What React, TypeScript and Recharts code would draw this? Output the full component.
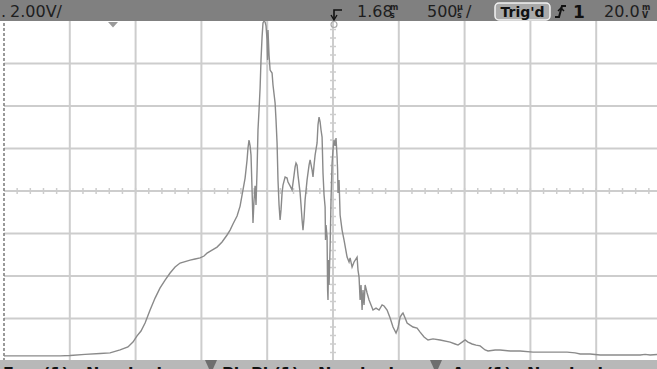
import { LineChart, Line, XAxis, YAxis, ReferenceLine } from "recharts";

// scope trace, time in µs (500 µs/div, 1.68 ms at centre), volts (2.00 V/div)
const timeUs = [
  -820, -698, -546, -394, -318, -204, -90, -14, 62, 122, 160, 191, 221, 252, 290, 328, 366, 404, 442, 480,
  518, 556, 594, 632, 670, 700, 723, 761, 799, 837, 875, 898, 920, 951, 974, 996, 1012, 1027, 1034, 1042,
  1050, 1057, 1065, 1072, 1080, 1088, 1095, 1103, 1110, 1118, 1126, 1133, 1141, 1148, 1156, 1164, 1171, 1179, 1183, 1186,
  1194, 1202, 1217, 1224, 1240, 1247, 1255, 1262, 1270, 1278, 1285, 1293, 1300, 1316, 1331, 1338, 1354, 1369, 1384, 1392,
  1399, 1407, 1414, 1430, 1437, 1445, 1452, 1460, 1468, 1483, 1498, 1506, 1521, 1528, 1536, 1544, 1559, 1566, 1574, 1582,
  1589, 1597, 1604, 1612, 1620, 1623, 1627, 1635, 1639, 1642, 1646, 1650, 1658, 1665, 1673, 1680, 1688, 1696, 1703, 1711,
  1715, 1718, 1726, 1734, 1749, 1764, 1787, 1802, 1810, 1825, 1840, 1863, 1870, 1878, 1886, 1893, 1901, 1908, 1916, 1924,
  1939, 1954, 1969, 1984, 2007, 2030, 2053, 2068, 2091, 2114, 2136, 2159, 2174, 2190, 2205, 2212, 2228, 2243, 2266, 2288,
  2319, 2342, 2372, 2402, 2440, 2494, 2570, 2608, 2630, 2661, 2684, 2706, 2737, 2767, 2798, 2836, 2858, 2912, 2950, 3026,
  3102, 3200, 3292, 3368, 3459, 3520, 3558, 3634, 3710, 3824, 3900, 3960, 4014, 4052, 4090, 4143, 4181,
];

const volts = [
  0.24, 0.24, 0.24, 0.24, 0.26, 0.31, 0.35, 0.38, 0.52, 0.66, 0.89, 1.18, 1.41, 1.79, 2.4, 2.96, 3.44, 3.81, 4.14, 4.42,
  4.61, 4.68, 4.75, 4.8, 4.85, 4.94, 5.08, 5.22, 5.36, 5.6, 5.93, 6.16, 6.45, 6.82, 7.29, 8.05, 8.61, 9.46, 10.02, 10.4,
  10.12, 9.69, 8.05, 6.49, 7.58, 8.24, 7.34, 8.99, 10.87, 11.81, 12.85, 14.17, 15.25, 15.91, 16.0, 15.95, 15.77, 15.11, 14.17, 15.58,
  14.4, 13.69, 13.55, 12.99, 12.14, 11.34, 10.26, 8.52, 7.34, 6.64, 7.11, 7.91, 8.28, 8.66, 8.61, 8.42, 8.24, 8.05, 8.75, 9.13,
  9.32, 9.22, 8.75, 7.91, 7.34, 6.64, 6.16, 6.73, 7.58, 8.52, 9.22, 9.46, 8.99, 8.66, 9.22, 9.69, 10.26, 11.11, 11.48, 11.25,
  10.87, 10.54, 8.85, 7.81, 7.25, 5.69, 6.4, 5.84, 3.34, 2.87, 4.75, 3.58, 5.36, 7.58, 9.32, 9.93, 10.4, 10.12, 10.49, 9.6,
  8.99, 7.91, 8.52, 6.87, 6.16, 5.69, 4.89, 4.66, 4.85, 4.42, 4.66, 4.89, 4.28, 3.95, 2.87, 3.58, 2.4, 3.34, 2.64, 3.58,
  3.2, 2.87, 2.64, 2.4, 2.49, 2.4, 2.64, 2.59, 2.4, 2.02, 1.6, 1.32, 1.55, 2.07, 2.21, 2.26, 2.02, 1.79, 1.69, 1.6,
  1.55, 1.36, 1.13, 0.99, 1.04, 0.99, 0.89, 0.8, 0.75, 0.89, 0.99, 0.89, 0.8, 0.75, 0.71, 0.52, 0.47, 0.52, 0.52, 0.47,
  0.47, 0.42, 0.42, 0.42, 0.42, 0.38, 0.33, 0.33, 0.28, 0.28, 0.28, 0.28, 0.28, 0.31, 0.28, 0.31, 0.28,
];

const gridTimes = [-320, 180, 680, 1180, 1680, 2180, 2680, 3180, 3680];
const gridVolts = [2, 4, 6, 8, 10, 12, 14];
const CENTER_T = 1680;
const CENTER_V = 8;

// graticule minor ticks: 5 per division on the centre lines
const minorTimes = Array.from({ length: 49 }, (_, i) => -820 + (i + 1) * 100);
const minorVolts = Array.from({ length: 39 }, (_, i) => (i + 1) * 0.4);

const data = timeUs.map((t, i) => ({ t, v: volts[i] }));

const GRID = "#cdcdcd";
const TRACE = "#8a8a8a";
const FONT = "'DejaVu Sans', sans-serif";

// stacked unit glyph like the scope's "ms" / "µs" / "mV"
const Unit: React.FC<{ x: number; top: string; bottom: string }> = ({ x, top, bottom }) => (
  <text x={x} fontFamily={FONT} fontSize={8} fill="#1e1e1e" fontWeight="bold">
    <tspan x={x} y={10}>{top}</tspan>
    <tspan x={x} y={18}>{bottom}</tspan>
  </text>
);

const Overlay = () => (
  <svg
    width={657}
    height={369}
    style={{ position: "absolute", left: 0, top: 0, pointerEvents: "none" }}
  >
    {/* status bar */}
    <rect x={0} y={0} width={657} height={21} fill="#808080" />
    <g fontFamily={FONT} fontSize={16} fill="#1e1e1e">
      <text x={1} y={17}>.</text>
      <text x={10} y={17}>2.00V/</text>
      <text x={357} y={17}>1.68</text>
      <text x={427} y={17}>500</text>
      <text x={466} y={17}>/</text>
      <text x={604} y={17}>20.0</text>
    </g>
    <Unit x={390} top="m" bottom="s" />
    <Unit x={457} top="µ" bottom="s" />
    <Unit x={642} top="m" bottom="V" />
    <rect x={495} y={3} width={55} height={17} rx={4} fill="#a9a9a9" stroke="#f2f2f2" strokeWidth={1.5} />
    <text x={522.5} y={16.5} textAnchor="middle" fontFamily={FONT} fontSize={14} fontWeight="bold" fill="#111">
      Trig'd
    </text>
    <path d="M555,17 L559,17 L562,6 L566,6" stroke="#111" strokeWidth={2} fill="none" />
    <path d="M558,11 L561,8 L564,11" stroke="#111" strokeWidth={1.5} fill="none" />
    <text x={573} y={18} fontFamily={FONT} fontSize={17} fontWeight="bold" fill="#111">1</text>
    {/* trigger and reference markers */}
    <path d="M334,19 L334,10 L342,10" stroke="#111" strokeWidth={1.6} fill="none" />
    <path d="M331,15 L334,20 L337,15" stroke="#111" strokeWidth={1.4} fill="none" />
    <circle cx={334} cy={24.5} r={3} fill="none" stroke="#aaaaaa" strokeWidth={1.2} />
    <polygon points="108,22 118,22 113,27.5" fill="#9a9a9a" />
    {/* measurement bar, mostly below the visible screen */}
    <rect x={0} y={360} width={657} height={9} fill="#b8b8b8" />
    <polygon points="205,360 217,360 213,369 209,369" fill="#6e6e6e" />
    <polygon points="430,360 442,360 438,369 434,369" fill="#6e6e6e" />
    <g fontFamily={FONT} fontSize={16} fontWeight="bold" fill="#111">
      <text x={3} y={379}>Freq(1)</text>
      <text x={86} y={379} textLength={76}>Nominal</text>
      <text x={222} y={379}>Pk-Pk(1)</text>
      <text x={318} y={379} textLength={76}>Nominal</text>
      <text x={452} y={379}>Avg(1)</text>
      <text x={527} y={379} textLength={76}>Nominal</text>
    </g>
  </svg>
);

const App = () => {
  return (
    <div
      style={{
        position: "absolute",
        left: 0,
        top: 0,
        width: 657,
        height: 369,
        overflow: "hidden",
        background: "#fff",
      }}
    >
      <LineChart
        width={662}
        height={369}
        data={data}
        margin={{ top: 21, right: 0, bottom: 8, left: 4 }}
      >
        <XAxis type="number" dataKey="t" domain={[-820, 4180]} hide allowDataOverflow />
        <YAxis type="number" domain={[0, 16]} hide allowDataOverflow />
        {gridTimes.map((t) => (
          <ReferenceLine key={`gx${t}`} x={t} stroke={GRID} strokeWidth={2} />
        ))}
        {gridVolts.map((v) => (
          <ReferenceLine key={`gy${v}`} y={v} stroke={GRID} strokeWidth={2} />
        ))}
        {minorTimes.map((t) => (
          <ReferenceLine
            key={`mx${t}`}
            segment={[
              { x: t, y: CENTER_V - 0.14 },
              { x: t, y: CENTER_V + 0.14 },
            ]}
            stroke={GRID}
            strokeWidth={1.5}
          />
        ))}
        {minorVolts.map((v) => (
          <ReferenceLine
            key={`my${v}`}
            segment={[
              { x: CENTER_T - 23, y: v },
              { x: CENTER_T + 23, y: v },
            ]}
            stroke={GRID}
            strokeWidth={1.5}
          />
        ))}
        <ReferenceLine x={-820} stroke="#7a7a7a" strokeWidth={1.5} strokeDasharray="3 2" />
        <Line
          type="linear"
          dataKey="v"
          stroke={TRACE}
          strokeWidth={1.4}
          dot={false}
          isAnimationActive={false}
        />
      </LineChart>
      <Overlay />
    </div>
  );
};

export default App;
